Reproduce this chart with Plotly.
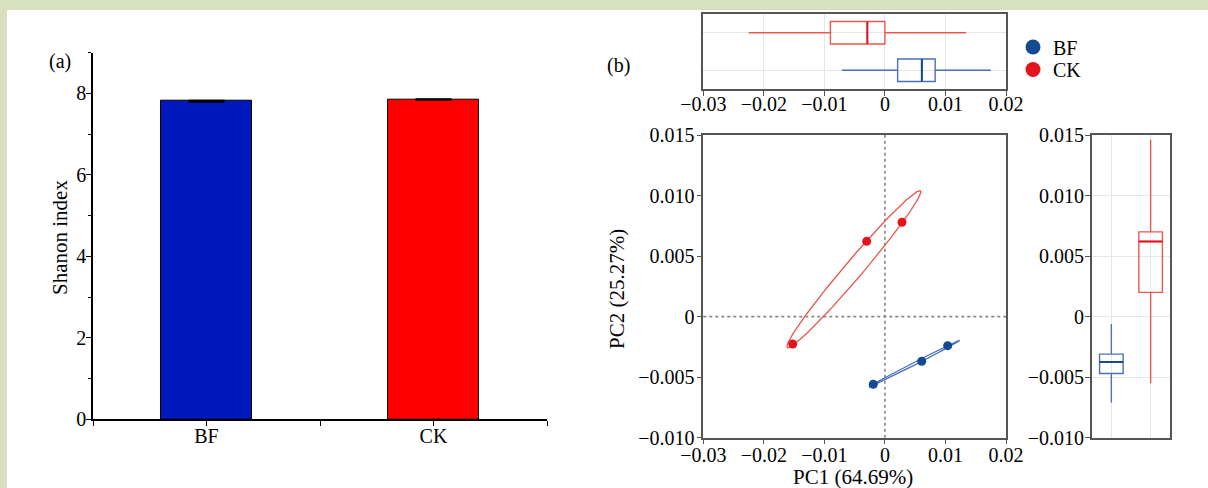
import numpy as np
import plotly.graph_objects as go

# ---------------- data ----------------
groups = ["BF", "CK"]
shannon = [7.81, 7.85]
shannon_err = [0.012, 0.008]

pc1_BF = [-0.00192, 0.00608, 0.01037]
pc2_BF = [-0.00559, -0.00369, -0.00240]
pc1_CK = [-0.01523, -0.00301, 0.00282]
pc2_CK = [-0.00226, 0.00622, 0.00779]

# box statistics (BF, CK)
pc1_lower = [-0.0071, -0.0225]
pc1_q1 = [0.0021, -0.0090]
pc1_med = [0.0061, -0.0029]
pc1_q3 = [0.0083, 0.0000]
pc1_upper = [0.0175, 0.0134]

pc2_lower = [-0.0071, -0.0055]
pc2_q1 = [-0.0047, 0.0020]
pc2_med = [-0.00375, 0.0062]
pc2_q3 = [-0.0031, 0.0070]
pc2_upper = [-0.0006, 0.0146]

shannon_ticks = [0, 2, 4, 6, 8]
pc1_ticks = [-0.03, -0.02, -0.01, 0, 0.01, 0.02]
pc1_ticktext = ["\u22120.03", "\u22120.02", "\u22120.01", "0", "0.01", "0.02"]
pc2_ticks = [0.015, 0.010, 0.005, 0, -0.005, -0.010]
pc2_ticktext = ["0.015", "0.010", "0.005", "0", "\u22120.005", "\u22120.010"]

# ---------------- style ----------------
W, H = 1208, 488
FONT = "Liberation Serif"
bar_colors = ["#0019be", "#ff0000"]
pt_colors = {"BF": "#134a91", "CK": "#e3141c"}
line_colors = {"BF": "#4a70b5", "CK": "#e8584f"}
BOX_W = 0.6


def px(v):
    return v / W


def py(v):
    return 1 - v / H


def ellipse(xs, ys, k=1.2, n=200):
    x = np.asarray(xs)
    y = np.asarray(ys)
    cov = np.cov(x, y)
    vals, vecs = np.linalg.eigh(cov)
    t = np.linspace(0, 2 * np.pi, n)
    circ = np.vstack([np.cos(t), np.sin(t)])
    pts = vecs @ (np.sqrt(np.maximum(vals, 0))[:, None] * circ) * k
    return pts[0] + x.mean(), pts[1] + y.mean()


fig = go.Figure()

# ---- (a) bar chart ----
fig.add_trace(go.Bar(
    x=list(range(len(groups))), y=shannon, width=0.4,
    marker=dict(color=bar_colors, line=dict(color="black", width=1)),
    error_y=dict(type="data", array=shannon_err, color="black", thickness=2, width=18),
    xaxis="x", yaxis="y", showlegend=False))

# ---- (b) PCA scatter ----
scatter_data = {"BF": (pc1_BF, pc2_BF), "CK": (pc1_CK, pc2_CK)}
for g in ["CK", "BF"]:
    ex, ey = ellipse(*scatter_data[g])
    fig.add_trace(go.Scatter(x=ex, y=ey, mode="lines",
                             line=dict(color=line_colors[g], width=1.3),
                             xaxis="x2", yaxis="y2", showlegend=False, hoverinfo="skip"))
for g in ["CK", "BF"]:
    xs, ys = scatter_data[g]
    fig.add_trace(go.Scatter(x=xs, y=ys, mode="markers",
                             marker=dict(color=pt_colors[g], size=9),
                             xaxis="x2", yaxis="y2", showlegend=False, name=g))

# legend-only entries
for i, g in enumerate(groups):
    fig.add_trace(go.Scatter(x=[None], y=[None], mode="markers", name=g,
                             marker=dict(color=pt_colors[g], size=15),
                             xaxis="x2", yaxis="y2", showlegend=True,
                             legend="legend" if i == 0 else "legend2"))

# ---- top box (PC1) ----
for i, g in enumerate(groups):
    fig.add_trace(go.Box(
        orientation="h", y=[i], q1=[pc1_q1[i]], median=[pc1_med[i]], q3=[pc1_q3[i]],
        lowerfence=[pc1_lower[i]], upperfence=[pc1_upper[i]],
        width=BOX_W, whiskerwidth=0, fillcolor="rgba(0,0,0,0)",
        line=dict(color=line_colors[g], width=1.4),
        xaxis="x3", yaxis="y3", showlegend=False, name=g))
    fig.add_trace(go.Scatter(
        x=[pc1_med[i], pc1_med[i]], y=[i - BOX_W / 2, i + BOX_W / 2], mode="lines",
        line=dict(color=pt_colors[g], width=2),
        xaxis="x3", yaxis="y3", showlegend=False, hoverinfo="skip"))

# ---- right box (PC2) ----
for i, g in enumerate(groups):
    fig.add_trace(go.Box(
        x=[i], q1=[pc2_q1[i]], median=[pc2_med[i]], q3=[pc2_q3[i]],
        lowerfence=[pc2_lower[i]], upperfence=[pc2_upper[i]],
        width=BOX_W, whiskerwidth=0, fillcolor="rgba(0,0,0,0)",
        line=dict(color=line_colors[g], width=1.4),
        xaxis="x4", yaxis="y4", showlegend=False, name=g))
    fig.add_trace(go.Scatter(
        x=[i - BOX_W / 2, i + BOX_W / 2], y=[pc2_med[i], pc2_med[i]], mode="lines",
        line=dict(color=pt_colors[g], width=2),
        xaxis="x4", yaxis="y4", showlegend=False, hoverinfo="skip"))

tickfont = dict(family=FONT, size=20, color="black")
frame = dict(showline=True, linecolor="#555555", linewidth=1.5, mirror=True, zeroline=False,
             automargin=False)

dom_main_x = [px(703.3), px(1006)]
dom_main_y = [py(437.7), py(135)]


def ann(text, x, y, size=20, angle=0):
    return dict(text=text, xref="paper", yref="paper", x=px(x), y=py(y), showarrow=False,
                xanchor="center", yanchor="middle", textangle=angle,
                font=dict(family=FONT, size=size, color="black"))


fig.update_layout(
    width=W, height=H, margin=dict(l=0, r=0, t=0, b=0, pad=0, autoexpand=False),
    paper_bgcolor="#d9e0bf", plot_bgcolor="white",
    font=dict(family=FONT, size=20, color="black"),
    bargap=0,
    xaxis=dict(domain=[px(93), px(547)], range=[-0.5, 1.5],
               tickvals=list(range(len(groups))), ticktext=groups,
               showline=True, linecolor="black", linewidth=1.5, zeroline=False, showgrid=False,
               ticks="outside", ticklen=5, tickcolor="black", tickwidth=1.2,
               minor=dict(ticks="outside", ticklen=5, tickcolor="black", tickwidth=1.2,
                          tick0=-0.5, dtick=0.5),
               tickfont=tickfont, automargin=False, ticklabelstandoff=-7),
    yaxis=dict(domain=[py(419.3), py(52.7)], range=[0, 9],
               tickvals=shannon_ticks,
               showline=True, linecolor="black", linewidth=1.5, zeroline=False, showgrid=False,
               ticks="outside", ticklen=5, tickcolor="black", tickwidth=1.2,
               minor=dict(ticks="outside", ticklen=3, tickcolor="black", tickwidth=1.2,
                          tick0=0, dtick=1),
               tickfont=tickfont, automargin=False, ticklabelstandoff=-4),
    xaxis2=dict(domain=dom_main_x, range=[-0.03, 0.02], tickvals=pc1_ticks, ticktext=pc1_ticktext,
                ticks="outside", ticklen=5, tickcolor="#555555", showgrid=False,
                tickfont=tickfont, anchor="y2", ticklabelstandoff=-6, **frame),
    yaxis2=dict(domain=dom_main_y, range=[-0.010, 0.015], tickvals=pc2_ticks, ticktext=pc2_ticktext,
                ticks="outside", ticklen=5, tickcolor="#555555", showgrid=False,
                tickfont=tickfont, anchor="x2", ticklabelstandoff=-2, **frame),
    xaxis3=dict(domain=dom_main_x, range=[-0.03, 0.02], tickvals=pc1_ticks, ticktext=pc1_ticktext,
                ticks="outside", ticklen=5, tickcolor="#555555", showgrid=True, gridcolor="#e6e6e6",
                tickfont=tickfont, anchor="y3", ticklabelstandoff=-9, **frame),
    yaxis3=dict(domain=[py(89), py(14)], range=[-0.5, 1.5], tickvals=[0, 1],
                showticklabels=False, ticks="", showgrid=True, gridcolor="#e6e6e6",
                anchor="x3", **frame),
    xaxis4=dict(domain=[px(1091.7), px(1170.3)], range=[-0.5, 1.5], tickvals=[0, 1],
                showticklabels=False, ticks="", showgrid=True, gridcolor="#e6e6e6",
                anchor="y4", **frame),
    yaxis4=dict(domain=dom_main_y, range=[-0.010, 0.015], tickvals=pc2_ticks, ticktext=pc2_ticktext,
                ticks="outside", ticklen=5, tickcolor="#555555", showgrid=True, gridcolor="#e6e6e6",
                tickfont=tickfont, anchor="x4", ticklabelstandoff=-3, **frame),
    legend=dict(x=px(1013), y=py(47), xanchor="left", yanchor="middle",
                font=dict(family=FONT, size=20, color="black"), bgcolor="rgba(0,0,0,0)",
                borderwidth=0),
    legend2=dict(x=px(1013), y=py(69.5), xanchor="left", yanchor="middle",
                 font=dict(family=FONT, size=20, color="black"), bgcolor="rgba(0,0,0,0)",
                 borderwidth=0),
    shapes=[
        dict(type="rect", xref="paper", yref="paper", x0=px(7), x1=1, y0=0, y1=py(10),
             fillcolor="white", line=dict(width=0), layer="below"),
        dict(type="line", xref="x2", yref="y2 domain", x0=0, x1=0, y0=0, y1=1,
             line=dict(color="#888888", width=1.6, dash="dot"), layer="below"),
        dict(type="line", xref="x2 domain", yref="y2", x0=0, x1=1, y0=0, y1=0,
             line=dict(color="#888888", width=1.6, dash="dot"), layer="below"),
    ],
    annotations=[
        ann("(a)", 60, 62),
        ann("(b)", 618, 65),
        ann("Shanon index", 60, 237, size=21, angle=-90),
        ann("PC1 (64.69%)", 853, 476.5, size=21),
        ann("PC2 (25.27%)", 617, 289, size=21, angle=-90),
    ],
)

fig.write_html("out.html",
               config={"displayModeBar": False},
               post_script="document.body.style.margin='0';document.body.style.padding='0';")
